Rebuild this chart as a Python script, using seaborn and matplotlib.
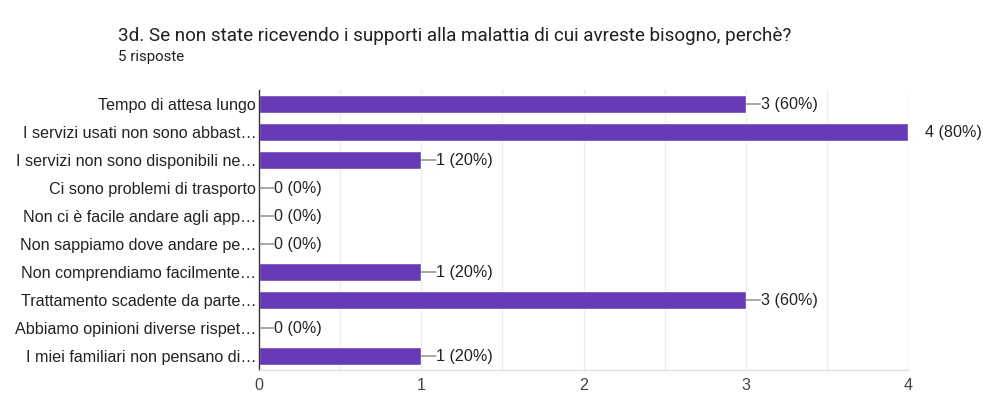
import matplotlib
matplotlib.use("Agg")
import matplotlib.pyplot as plt
import seaborn as sns
import pandas as pd

categories = [
    "Tempo di attesa lungo",
    "I servizi usati non sono abbast…",
    "I servizi non sono disponibili ne…",
    "Ci sono problemi di trasporto",
    "Non ci è facile andare agli app…",
    "Non sappiamo dove andare pe…",
    "Non comprendiamo facilmente…",
    "Trattamento scadente da parte…",
    "Abbiamo opinioni diverse rispet…",
    "I miei familiari non pensano di…",
]
counts = [3, 4, 1, 0, 0, 0, 1, 3, 0, 1]
percents = [60, 80, 20, 0, 0, 0, 20, 60, 0, 20]
total_responses = 5
x_ticks = [0, 1, 2, 3, 4]

sns.set_theme(style="white")
plt.rcParams["font.family"] = ["Liberation Sans", "DejaVu Sans"]

df = pd.DataFrame({"categoria": categories, "conteggio": counts})

fig = plt.figure(figsize=(9.83, 3.94), dpi=100)
ax = fig.add_axes([259 / 983, 1 - 370 / 394, (908 - 259) / 983, 280 / 394])

sns.barplot(data=df, x="conteggio", y="categoria", color="#673ab7",
            saturation=1, width=0.62, ax=ax, orient="h")

ax.set_xlim(0, 4)
ax.set_ylim(len(categories) - 0.5, -0.5)
ax.set_xlabel("")
ax.set_ylabel("")

# light vertical grid every half unit
for gx in [0.5, 1, 1.5, 2, 2.5, 3, 3.5, 4]:
    ax.axvline(gx, color="#ececec", lw=1, zorder=0)

for s in ["top", "right"]:
    ax.spines[s].set_visible(False)
ax.spines["bottom"].set_color("#e0e0e0")
ax.spines["bottom"].set_linewidth(1)
ax.spines["left"].set_color("#333333")
ax.spines["left"].set_linewidth(1)

label_size = 11.6

ax.set_xticks(x_ticks)
ax.set_xticklabels([str(t) for t in x_ticks], fontsize=label_size, color="#444444")
ax.tick_params(axis="x", length=0, pad=6)
ax.tick_params(axis="y", length=0, pad=2, labelsize=label_size, labelcolor="#222222")

# value labels with short leader lines
for i, (c, p) in enumerate(zip(counts, percents)):
    label = f"{c} ({p}%)"
    if c >= 4:
        ax.annotate(label, xy=(c, i), xytext=(12, 0), textcoords="offset points",
                    va="center", ha="left", fontsize=label_size, color="#222222",
                    annotation_clip=False)
    else:
        ax.annotate("", xy=(c, i), xytext=(c + 0.09, i),
                    arrowprops=dict(arrowstyle="-", color="#777777", lw=0.9,
                                    shrinkA=0, shrinkB=0))
        ax.text(c + 0.093, i, label, va="center", ha="left",
                fontsize=label_size, color="#222222")

fig.text(118 / 983, 1 - 36 / 394,
         "3d. Se non state ricevendo i supporti alla malattia di cui avreste bisogno, perchè?",
         fontsize=13.6, color="#202124", va="center", ha="left",
         family=["Roboto", "DejaVu Sans"])
fig.text(118 / 983, 1 - 57 / 394, f"{total_responses} risposte",
         fontsize=10.8, color="#202124", va="center", ha="left",
         family=["Roboto", "DejaVu Sans"])

fig.savefig("out.png", dpi=100, facecolor="white")
